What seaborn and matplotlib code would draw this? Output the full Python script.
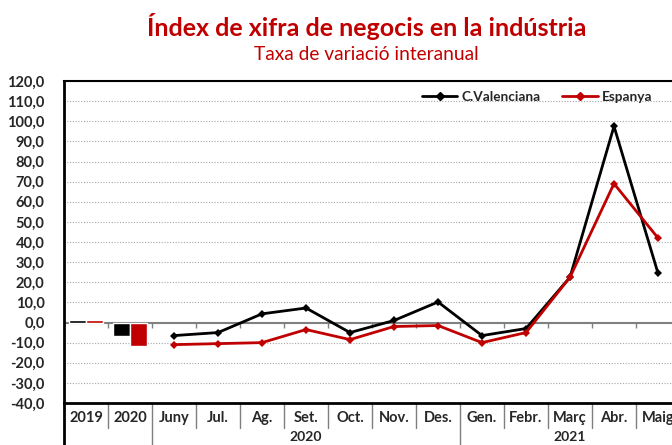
import pandas as pd
import seaborn as sns
import matplotlib.pyplot as plt
import matplotlib.transforms as mtransforms
from matplotlib.lines import Line2D

# categories on the x axis (two annual values, then monthly rates)
categories = ['2019', '2020', 'Juny', 'Jul.', 'Ag.', 'Set.', 'Oct.', 'Nov.',
              'Des.', 'Gen.', 'Febr.', 'Març', 'Abr.', 'Maig']
year_groups = [('2020', 'Juny', 'Des.'), ('2021', 'Gen.', 'Maig')]

series = ['C.Valenciana', 'Espanya']
colors = ['#000000', '#c00000']

annual_years = ['2019', '2020']
annual_cv = [1.0, -6.5]
annual_es = [1.0, -11.9]

months = categories[2:]
monthly_cv = [-6.5, -5.0, 4.3, 7.2, -5.0, 1.0, 10.2, -6.5, -3.0, 22.5, 97.5, 24.5]
monthly_es = [-11.0, -10.5, -10.0, -3.5, -8.5, -2.0, -1.5, -10.0, -5.0, 22.5, 69.0, 42.0]

y_ticks = list(range(-40, 121, 10))

sns.set_theme(style='white')
plt.rcParams['font.family'] = ['Lato', 'DejaVu Sans']

bars = pd.DataFrame({
    'cat': annual_years * 2,
    'serie': [series[0]] * 2 + [series[1]] * 2,
    'value': annual_cv + annual_es,
})
lines = pd.DataFrame({
    'pos': [categories.index(m) for m in months] * 2,
    'serie': [series[0]] * len(months) + [series[1]] * len(months),
    'value': monthly_cv + monthly_es,
})

fig = plt.figure(figsize=(6.72, 4.45), dpi=100)
ax = fig.add_axes([64 / 672, 1 - 403 / 445, 616 / 672, 322 / 445])

ax.axhline(0, color='#808080', linewidth=1.5, zorder=0.9)
bounds = [i + 0.5 for i in range(len(categories) - 1)]
ax.vlines(bounds, -2.5, 0, color='#808080', linewidth=1, zorder=0.9)

sns.barplot(data=bars, x='cat', y='value', hue='serie', order=categories,
            hue_order=series, palette=colors, width=0.8, gap=0.05,
            saturation=1, legend=False, ax=ax, zorder=2)
sns.lineplot(data=lines, x='pos', y='value', hue='serie', hue_order=series,
             palette=colors, marker='D', markersize=4.5, markeredgewidth=0,
             linewidth=2, legend=False, ax=ax, zorder=3)

ax.set_xlim(-0.5, len(categories) - 0.5)
ax.set_ylim(-40, 120)
ax.set_yticks(y_ticks)
ax.set_yticklabels([f'{v:.1f}'.replace('.', ',') for v in y_ticks],
                   fontweight='bold', fontsize=10.5)
ax.set_xticks(range(len(categories)))
ax.set_xticklabels(categories, fontweight='bold', fontsize=10.5)
ax.tick_params(axis='x', length=0, pad=6)
ax.tick_params(axis='y', length=0, pad=14)
ax.set_xlabel('')
ax.set_ylabel('')

ax.yaxis.grid(True, linestyle=(0, (1, 1.5)), color='#a6a6a6', linewidth=0.8)
ax.set_axisbelow(True)

for side in ['left', 'bottom']:
    ax.spines[side].set_color('black')
    ax.spines[side].set_linewidth(2)
ax.spines['top'].set_color('black')
ax.spines['top'].set_linewidth(1.5)
ax.spines['right'].set_visible(False)

# multi-level category axis
trans = mtransforms.blended_transform_factory(ax.transData, ax.transAxes)
long_bounds = [-0.5]
for name, first, last in year_groups:
    long_bounds += [categories.index(first) - 0.5, categories.index(last) + 0.5]
for b in bounds:
    bottom = -0.2 if b in long_bounds else -0.078
    ax.plot([b, b], [0, bottom], color='#7f7f7f', linewidth=1,
            transform=trans, clip_on=False)
ax.plot([-0.5, -0.5], [0, -0.2], color='black', linewidth=2,
        transform=trans, clip_on=False)
for name, first, last in year_groups:
    mid = (categories.index(first) + categories.index(last)) / 2
    if last == categories[-1]:
        mid = (categories.index(first) - 0.5 + len(categories) - 0.5) / 2
    ax.text(mid, -0.088, name, transform=trans, ha='center', va='top',
            fontweight='bold', fontsize=10)

handles = [Line2D([], [], color=c, marker='D', markersize=4, linewidth=2)
           for c in colors]
fig.legend(handles, series, loc='center', bbox_to_anchor=(537 / 672, 1 - 97 / 445),
           ncol=2, frameon=False, handlelength=2.6, handletextpad=0.3,
           columnspacing=1.6, prop={'weight': 'bold', 'size': 9.8})

fig.text(367 / 672, 1 - 27 / 445, 'Índex de xifra de negocis en la indústria',
         ha='center', va='center', color='#c00000', fontweight='bold', fontsize=18)
fig.text(366 / 672, 1 - 55 / 445, 'Taxa de variació interanual',
         ha='center', va='center', color='#c00000', fontsize=13.8)

fig.savefig('out.png', dpi=100)
